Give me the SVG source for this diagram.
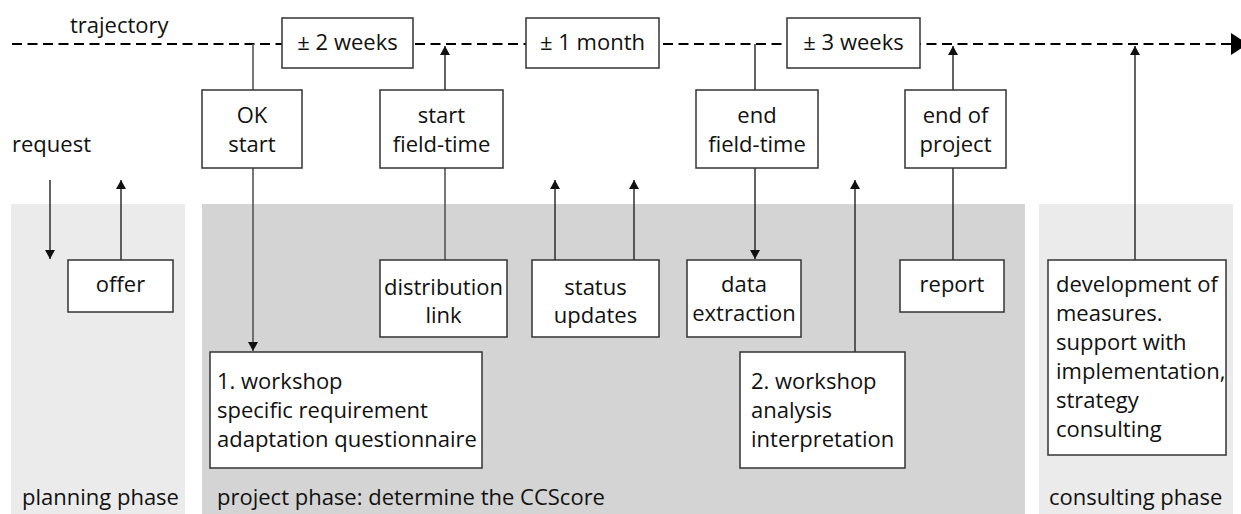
<svg xmlns="http://www.w3.org/2000/svg" width="1241" height="514" viewBox="0 0 1241 514">
<style>
text{font-family:"Open Sans","Noto Sans","Liberation Sans",sans-serif;font-size:22px;fill:#111}
.c{text-anchor:middle}
.box{fill:#fff;stroke:#333;stroke-width:1.5}
.ln{stroke:#222;stroke-width:1.4;fill:none}
.lg{stroke:#555;stroke-width:1.6;fill:none}
</style>
<defs>
<marker id="ah" markerUnits="userSpaceOnUse" markerWidth="12" markerHeight="12" viewBox="0 0 12 12" refX="9" refY="6" orient="auto">
<path d="M0,1 L9,6 L0,11 Z" fill="#111"/>
</marker>
</defs>
<g id="phases">
<rect x="11" y="204" width="174" height="310" fill="#ebebeb"/>
<rect x="202" y="204" width="823" height="310" fill="#d4d4d4"/>
<rect x="1039" y="204" width="194" height="310" fill="#ebebeb"/>
</g>
<g id="connectors">
<line x1="12" y1="44" x2="1232" y2="44" stroke="#000" stroke-width="2" stroke-dasharray="10 5.5"/>
<polygon points="1231,33 1248,44 1231,55" fill="#000"/>
<line class="lg" x1="253" y1="44" x2="253" y2="90"/>
<line class="lg" x1="253" y1="168" x2="253" y2="351" marker-end="url(#ah)"/>
<line class="ln" x1="445" y1="90" x2="445" y2="46" marker-end="url(#ah)"/>
<line class="lg" x1="445" y1="168" x2="445" y2="260"/>
<line class="ln" x1="755" y1="44" x2="755" y2="90"/>
<line class="ln" x1="755" y1="168" x2="755" y2="259" marker-end="url(#ah)"/>
<line class="ln" x1="953" y1="90" x2="953" y2="46" marker-end="url(#ah)"/>
<line class="ln" x1="953" y1="168" x2="953" y2="260"/>
<line class="ln" x1="1135" y1="260" x2="1135" y2="46" marker-end="url(#ah)"/>
<line class="ln" x1="50" y1="180" x2="50" y2="259" marker-end="url(#ah)"/>
<line class="ln" x1="121" y1="260" x2="121" y2="180" marker-end="url(#ah)"/>
<line class="ln" x1="555" y1="260" x2="555" y2="180" marker-end="url(#ah)"/>
<line class="ln" x1="634" y1="260" x2="634" y2="180" marker-end="url(#ah)"/>
<line class="ln" x1="855" y1="352" x2="855" y2="180" marker-end="url(#ah)"/>
</g>
<g id="labels">
<text x="70" y="33">trajectory</text>
<text x="12" y="152">request</text>
<text x="22" y="505">planning phase</text>
<text x="217" y="505">project phase: determine the CCScore</text>
<text x="1049" y="505">consulting phase</text>
</g>
<g id="n-2weeks"><rect class="box" x="282" y="18" width="131" height="50"/><text class="c" x="347.5" y="50">± 2 weeks</text></g>
<g id="n-1month"><rect class="box" x="526" y="18" width="133" height="50"/><text class="c" x="592.5" y="50">± 1 month</text></g>
<g id="n-3weeks"><rect class="box" x="787" y="18" width="133" height="50"/><text class="c" x="853.5" y="50">± 3 weeks</text></g>
<g id="n-okstart"><rect class="box" x="202" y="90" width="100" height="78"/><text class="c" x="252" y="123">OK</text><text class="c" x="252" y="152">start</text></g>
<g id="n-startfield"><rect class="box" x="380" y="90" width="123" height="78"/><text class="c" x="441.5" y="123">start</text><text class="c" x="441.5" y="152">field-time</text></g>
<g id="n-endfield"><rect class="box" x="696" y="90" width="122" height="78"/><text class="c" x="757" y="123">end</text><text class="c" x="757" y="152">field-time</text></g>
<g id="n-endproject"><rect class="box" x="905" y="90" width="101" height="78"/><text class="c" x="955.5" y="123">end of</text><text class="c" x="955.5" y="152">project</text></g>
<g id="n-offer"><rect class="box" x="68" y="260" width="105" height="52"/><text class="c" x="120.5" y="292">offer</text></g>
<g id="n-distribution"><rect class="box" x="380" y="260" width="127" height="77"/><text class="c" x="443.5" y="295">distribution</text><text class="c" x="443.5" y="323">link</text></g>
<g id="n-status"><rect class="box" x="532" y="260" width="127" height="77"/><text class="c" x="595.5" y="295">status</text><text class="c" x="595.5" y="323">updates</text></g>
<g id="n-data"><rect class="box" x="687" y="260" width="114" height="77"/><text class="c" x="744" y="292">data</text><text class="c" x="744" y="321">extraction</text></g>
<g id="n-report"><rect class="box" x="900" y="260" width="104" height="52"/><text class="c" x="952" y="292">report</text></g>
<g id="n-workshop1"><rect class="box" x="210" y="352" width="272" height="116"/><text x="217" y="389">1. workshop</text><text x="217" y="418">specific requirement</text><text x="217" y="447">adaptation questionnaire</text></g>
<g id="n-workshop2"><rect class="box" x="740" y="352" width="165" height="116"/><text x="751" y="389">2. workshop</text><text x="751" y="418">analysis</text><text x="751" y="447">interpretation</text></g>
<g id="n-development"><rect class="box" x="1048" y="260" width="178" height="195"/><text x="1056" y="292">development of</text><text x="1056" y="321">measures.</text><text x="1056" y="350">support with</text><text x="1056" y="379">implementation,</text><text x="1056" y="408">strategy</text><text x="1056" y="437">consulting</text></g>
</svg>
